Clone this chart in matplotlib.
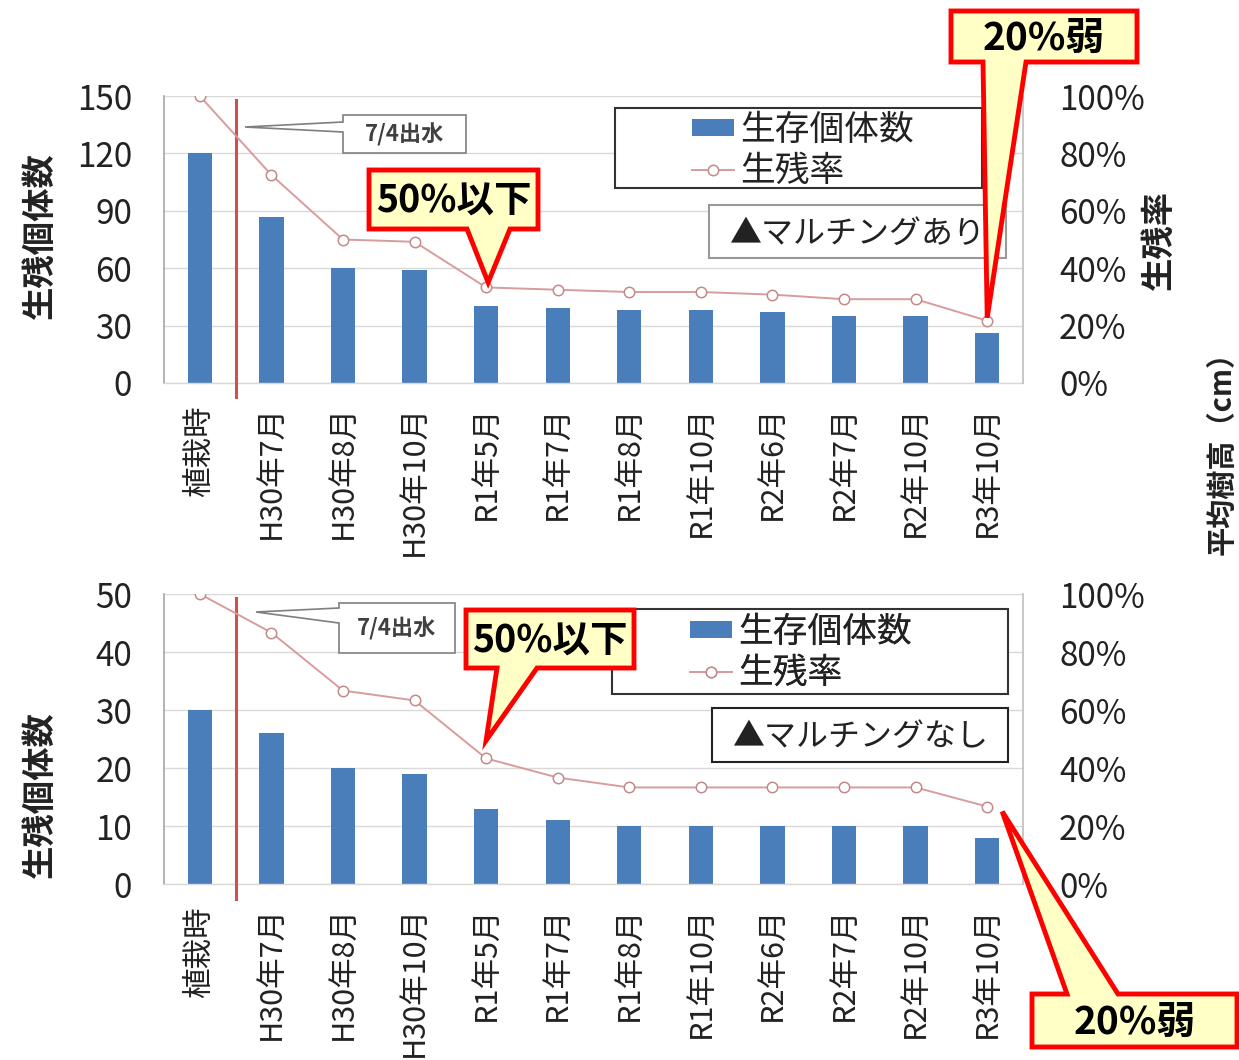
import matplotlib
matplotlib.use("Agg")
import matplotlib.pyplot as plt
from matplotlib.patches import Rectangle, Polygon
from matplotlib.lines import Line2D
from matplotlib.ticker import FuncFormatter

plt.rcParams['font.family'] = ['Noto Sans CJK JP', 'DejaVu Sans']

# ---- data -------------------------------------------------------------
categories = ['植栽時', 'H30年7月', 'H30年8月', 'H30年10月', 'R1年5月', 'R1年7月',
              'R1年8月', 'R1年10月', 'R2年6月', 'R2年7月', 'R2年10月', 'R3年10月']

# with mulching
mulch_counts = [120, 87, 60, 59, 40, 39, 38, 38, 37, 35, 35, 26]
mulch_rate = [100, 72.5, 50.0, 49.2, 33.3, 32.5, 31.7, 31.7, 30.8, 29.2, 29.2, 21.7]

# without mulching
bare_counts = [30, 26, 20, 19, 13, 11, 10, 10, 10, 10, 10, 8]
bare_rate = [100, 86.7, 66.7, 63.3, 43.3, 36.7, 33.3, 33.3, 33.3, 33.3, 33.3, 26.7]

count_ticks_top = [0, 30, 60, 90, 120, 150]
count_ticks_bottom = [0, 10, 20, 30, 40, 50]
rate_ticks = [0, 20, 40, 60, 80, 100]

legend_labels = ['生存個体数', '生残率']
count_label = '生残個体数'
rate_label = '生残率'
flood_label = '7/4出水'
note_half = '50%以下'
note_fifth = '20%弱'
mulch_on = '▲マルチングあり'
mulch_off = '▲マルチングなし'
side_label = '平均樹高（cm）'

# ---- style ------------------------------------------------------------
BAR = '#4a7ebb'
LINE = '#d99c9c'
MARK = '#c48a8a'
GRID = '#d9d9d9'
TXT = '#222222'
FLOOD = '#d0504d'
CALL_FC = '#ffffc6'
CALL_EC = '#ff0000'

W, H = 1239, 1060
fig = plt.figure(figsize=(W / 100, H / 100), dpi=100)
fig.patch.set_facecolor('white')


def fx(px):
    return px / W


def fy(py):
    return 1 - py / H


ax_top = fig.add_axes([fx(164), fy(383), (1023 - 164) / W, 287 / H])
ax_bot = fig.add_axes([fx(164), fy(884), (1023 - 164) / W, 290 / H])

# overlay in pixel coordinates (origin top-left) for boxes and callouts
ov = fig.add_axes([0, 0, 1, 1], zorder=10)
ov.set_xlim(0, W)
ov.set_ylim(H, 0)
ov.axis('off')
ov.patch.set_alpha(0)


def draw_panel(ax, counts, rate, count_ticks):
    x = list(range(len(categories)))
    ax.bar(x, counts, width=0.34, color=BAR, zorder=2)
    ax.set_xlim(-0.5, len(categories) - 0.5)
    ax.set_ylim(0, count_ticks[-1])
    ax.set_yticks(count_ticks)
    ax.yaxis.grid(True, color=GRID, lw=1.0)
    ax.set_axisbelow(True)
    ax.tick_params(axis='y', length=0, pad=23, labelsize=24, labelcolor=TXT)
    ax.set_xticks(x)
    ax.set_xticklabels(categories, rotation=90, fontsize=22, color=TXT)
    ax.tick_params(axis='x', length=0, pad=16)
    for s in ('top', 'right'):
        ax.spines[s].set_visible(False)
    ax.spines['left'].set_color('#a6a6a6')
    ax.spines['left'].set_linewidth(1.2)
    ax.spines['bottom'].set_color(GRID)
    ax.spines['bottom'].set_linewidth(1.0)

    ax2 = ax.twinx()
    ax2.plot(x, rate, color=LINE, lw=1.4, marker='o', ms=7.5, mfc='white',
             mec=MARK, mew=1.1, zorder=3)
    ax2.set_ylim(0, 100)
    ax2.set_yticks(rate_ticks)
    ax2.yaxis.set_major_formatter(FuncFormatter(lambda v, p: f'{int(v)}%'))
    ax2.tick_params(axis='y', length=0, pad=26, labelsize=24, labelcolor=TXT)
    for s in ('top', 'left', 'bottom'):
        ax2.spines[s].set_visible(False)
    ax2.spines['right'].set_color('#bfbfbf')
    ax2.spines['right'].set_linewidth(1.2)

    # flood marker between planting and the first survey
    ax.plot([0.5, 0.5], [-0.05, 0.986], transform=ax.get_xaxis_transform(),
            color=FLOOD, lw=2.2, clip_on=False, zorder=4)
    return ax2


ax2_top = draw_panel(ax_top, mulch_counts, mulch_rate, count_ticks_top)
ax2_bot = draw_panel(ax_bot, bare_counts, bare_rate, count_ticks_bottom)


def to_px(ax, x, y):
    disp = ax.transData.transform((x, y))
    return ov.transData.inverted().transform(disp)


# axis titles
fig.text(fx(40), fy(236), count_label, rotation=90, ha='center', va='center',
         fontsize=24, fontweight='bold', color=TXT)
fig.text(fx(40), fy(795), count_label, rotation=90, ha='center', va='center',
         fontsize=24, fontweight='bold', color=TXT)
fig.text(fx(1159), fy(240), rate_label, rotation=90, ha='center', va='center',
         fontsize=24, fontweight='bold', color=TXT)
fig.text(fx(1222), fy(446), side_label, rotation=90, ha='center', va='center',
         fontsize=21, fontweight='bold', color=TXT)


def legend_block(frame, anchor):
    x0, y0, x1, y1 = frame
    ov.add_patch(Rectangle((x0, y0), x1 - x0, y1 - y0, fc='white',
                           ec='#333333', lw=1.5, zorder=4))
    handles = [Rectangle((0, 0), 1, 1, fc=BAR, ec='none'),
               Line2D([], [], color=LINE, lw=1.4, marker='o', ms=7.5,
                      mfc='white', mec=MARK, mew=1.1)]
    leg = ov.legend(handles, legend_labels, loc='upper left',
                    bbox_to_anchor=anchor, bbox_transform=ov.transData,
                    frameon=False, fontsize=25, handlelength=1.2,
                    handleheight=0.4, handletextpad=0.2, borderpad=0,
                    borderaxespad=0, labelspacing=0.16, numpoints=1)
    for t in leg.get_texts():
        t.set_color(TXT)
    leg.set_zorder(5)
    ov.add_artist(leg)


def note_box(frame, text, ec):
    x0, y0, x1, y1 = frame
    ov.add_patch(Rectangle((x0, y0), x1 - x0, y1 - y0, fc='white',
                           ec=ec, lw=1.5, zorder=4))
    ov.text((x0 + x1) / 2, (y0 + y1) / 2 + 2, text, ha='center', va='center',
            fontsize=23, color=TXT, zorder=5)


def flood_callout(frame, base, tip):
    x0, y0, x1, y1 = frame
    pts = [(x0, y0), (x1, y0), (x1, y1), (x0, y1), (x0, base[1]), tip,
           (x0, base[0])]
    ov.add_patch(Polygon(pts, closed=True, fc='white', ec='#7f7f7f', lw=1.2,
                         zorder=4))
    ov.text((x0 + x1) / 2, (y0 + y1) / 2 + 1, flood_label, ha='center',
            va='center', fontsize=16, fontweight='bold', color='#404040',
            zorder=5)


def red_callout(frame, base, tip, text, edge='bottom', size=27):
    x0, y0, x1, y1 = frame
    xa, xb = base
    if edge == 'bottom':
        pts = [(x0, y0), (x1, y0), (x1, y1), (xb, y1), tip, (xa, y1), (x0, y1)]
    else:
        pts = [(x0, y0), (xa, y0), tip, (xb, y0), (x1, y0), (x1, y1), (x0, y1)]
    ov.add_patch(Polygon(pts, closed=True, fc=CALL_FC, ec=CALL_EC, lw=3.5,
                         joinstyle='miter', zorder=7))
    ov.text((x0 + x1) / 2, (y0 + y1) / 2 + 2, text, ha='center', va='center',
            fontsize=size, fontweight='bold', color='black', zorder=8)


# upper panel annotations
legend_block((615, 108, 982, 188), (692, 113))
note_box((709, 205, 1006, 258), mulch_on, '#999999')
flood_callout((343, 115, 466, 153), (122, 132), (245, 127))
tx, ty = to_px(ax2_top, 4, mulch_rate[4])
red_callout((369, 170, 538, 229), (467, 510), (tx + 2, ty - 5), note_half)
tx, ty = to_px(ax2_top, 11, mulch_rate[11])
red_callout((951, 11, 1137, 62), (983, 1026), (tx, ty - 3), note_fifth,
            size=28)

# lower panel annotations
legend_block((612, 609, 1008, 694), (690, 615))
note_box((712, 708, 1008, 762), mulch_off, '#222222')
flood_callout((339, 603, 455, 653), (608, 623), (256, 612))
tx, ty = to_px(ax2_bot, 4, bare_rate[4])
red_callout((466, 610, 634, 668), (497, 537), (tx, ty - 18), note_half)
tx, ty = to_px(ax2_bot, 11, bare_rate[11])
red_callout((1032, 994, 1237, 1047), (1067, 1118), (tx + 15, ty + 5),
            note_fifth, edge='top', size=28)

fig.savefig('out.png', dpi=100)
